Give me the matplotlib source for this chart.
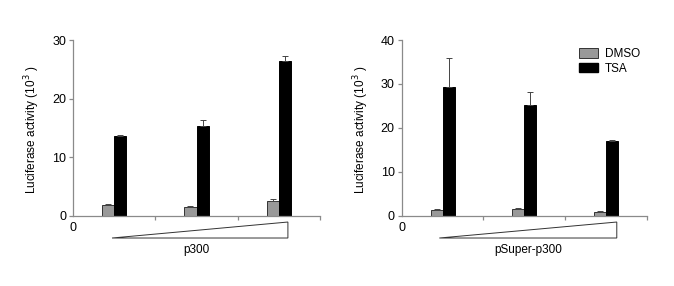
import matplotlib.pyplot as plt
import matplotlib.patches as mpatches
import numpy as np

plt.rcParams['font.family'] = ['Liberation Sans', 'DejaVu Sans']
plt.rcParams['mathtext.fontset'] = 'custom'
plt.rcParams['mathtext.rm'] = 'Liberation Sans'
plt.rcParams['mathtext.it'] = 'Liberation Sans'

groups = [0.5, 1.5, 2.5]

# left panel: p300
p300_dmso = [1.9, 1.55, 2.5]
p300_dmso_err = [0.05, 0.05, 0.35]
p300_tsa = [13.65, 15.4, 26.5]
p300_tsa_err = [0.12, 0.9, 0.75]

# right panel: pSuper-p300
ps_dmso = [1.3, 1.6, 0.95]
ps_dmso_err = [0.15, 0.1, 0.05]
ps_tsa = [29.4, 25.2, 17.1]
ps_tsa_err = [6.4, 3.0, 0.1]

panels = [
    ("p300", p300_dmso, p300_dmso_err, p300_tsa, p300_tsa_err, 30, [0, 10, 20, 30]),
    ("pSuper-p300", ps_dmso, ps_dmso_err, ps_tsa, ps_tsa_err, 40, [0, 10, 20, 30, 40]),
]

fig = plt.figure(figsize=(6.74, 2.86), dpi=100)
boxes = [[0.1083, 0.2458, 0.3665, 0.6142], [0.596, 0.2458, 0.364, 0.6142]]
spine_col = "#8a8a8a"
w = 0.146
tri = [(0.474, 2.61, 1.5), (0.46, 2.63, 1.545)]

for i, (name, dm, dme, ts, tse, ymax, yt) in enumerate(panels):
    ax = fig.add_axes(boxes[i])
    x = np.array(groups)
    ax.bar(x - w / 2, dm, w, color="#999999", edgecolor="#333333", linewidth=0.7,
           yerr=[np.zeros(3), dme], capsize=2.5,
           error_kw=dict(ecolor="#444444", elinewidth=0.7, capthick=0.7))
    ax.bar(x + w / 2, ts, w, color="black", edgecolor="black", linewidth=0.7,
           yerr=[np.zeros(3), tse], capsize=2.5,
           error_kw=dict(ecolor="#444444", elinewidth=0.7, capthick=0.7))
    ax.set_xlim(0, 3)
    ax.set_ylim(0, ymax)
    ax.set_yticks(yt)
    ax.set_xticks([1, 2, 3])
    ax.set_xticklabels([])
    for s in ["top", "right"]:
        ax.spines[s].set_visible(False)
    for s in ["left", "bottom"]:
        ax.spines[s].set_color(spine_col)
        ax.spines[s].set_linewidth(0.9)
    ax.tick_params(axis="y", colors=spine_col, labelcolor="black", labelsize=9,
                   length=3, width=0.9, pad=2)
    ax.tick_params(axis="x", colors=spine_col, length=3, width=0.9)
    ax.set_ylabel(r"Luciferase activity (10$^{\,\mathsf{3}}$ )", fontsize=8.5)
    ax.yaxis.set_label_coords(-0.127, 0.49)

    trans = ax.get_xaxis_transform()
    x0, x1, xl = tri[i]
    poly = mpatches.Polygon([(x0, -0.127), (x1, -0.036), (x1, -0.127)], closed=True,
                            fill=False, edgecolor="#333333", linewidth=0.7,
                            transform=trans, clip_on=False)
    ax.add_patch(poly)
    ax.text(0, -0.07, "0", transform=trans, ha="center", va="center", fontsize=9)
    ax.text(xl, -0.195, name, transform=trans, ha="center", va="center", fontsize=8.5)

    if i == 1:
        h1 = mpatches.Patch(facecolor="#999999", edgecolor="#333333", linewidth=0.7, label="DMSO")
        h2 = mpatches.Patch(facecolor="black", edgecolor="black", label="TSA")
        ax.legend(handles=[h1, h2], loc="upper left", bbox_to_anchor=(0.69, 1.0),
                  frameon=False, fontsize=8.5, handlelength=1.6, handleheight=0.9,
                  handletextpad=0.6, labelspacing=0.2, borderpad=0.2)

fig.savefig("out.png", dpi=100)
